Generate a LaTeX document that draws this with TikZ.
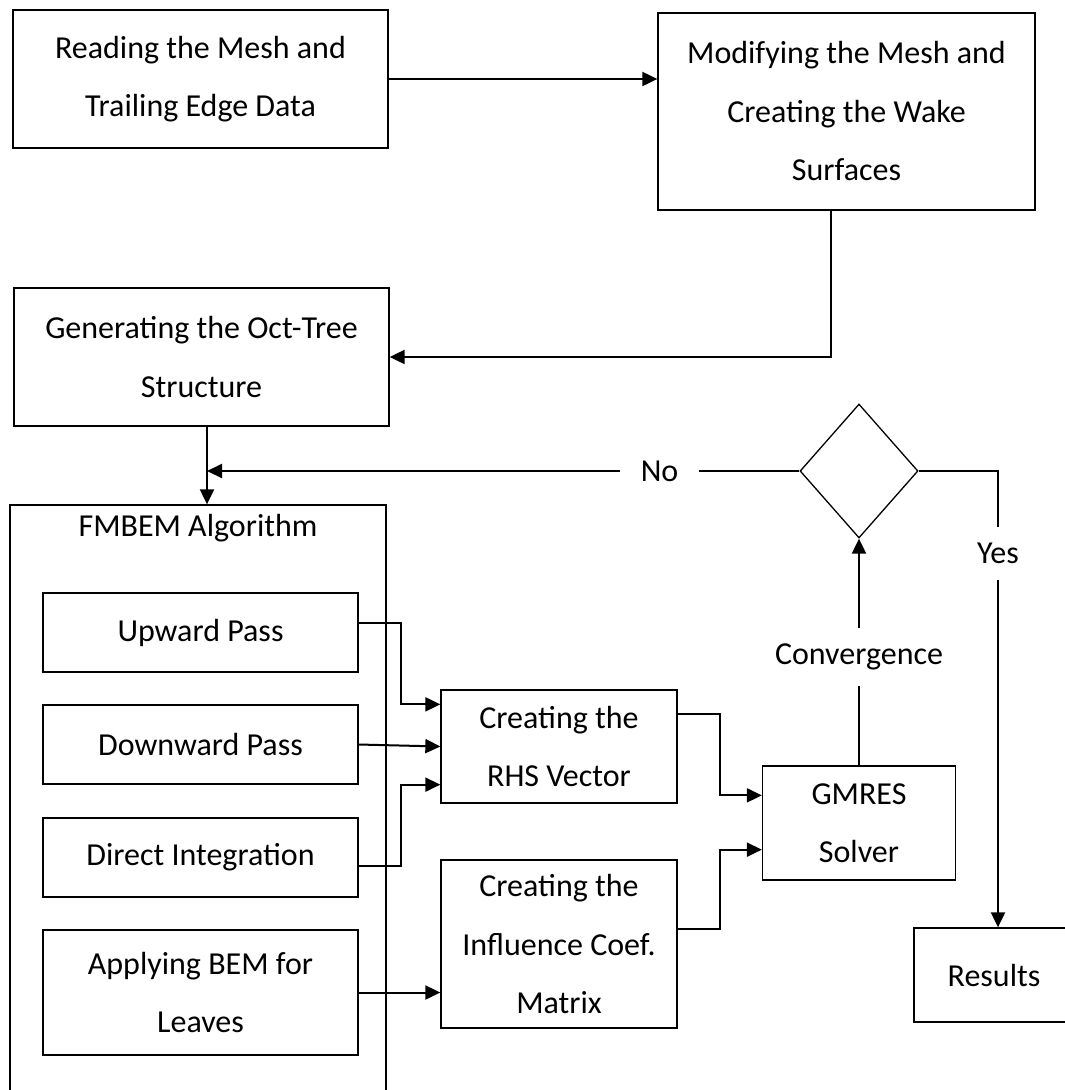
\documentclass[tikz,border=0pt]{standalone}
\usepackage{fontspec}
\setmainfont{Carlito}
\usetikzlibrary{shapes.geometric,arrows.meta}

\begin{document}
\begin{tikzpicture}[x=1pt, y=-1pt,
  every node/.style = {font=\fontsize{32}{58.5}\selectfont, align=center},
  box/.style 2 args = {shape=rectangle, draw, line width=1.3pt,
    minimum width=#1pt, minimum height=#2pt, inner sep=0pt},
  arr/.style = {draw, line width=2pt, -{Triangle[length=15pt, width=14pt]}},
  lbl/.style = {fill=white, inner xsep=21pt, inner ysep=16pt}]
  \useasboundingbox (0,0) rectangle (1065,1090);

  \node[box={375}{138}] (read) at (200.5,79) {Reading the Mesh and\\Trailing Edge Data};
  \node[box={377}{197}] (mod) at (846.5,111.5) {Modifying the Mesh and\\Creating the Wake\\Surfaces};
  \node[box={375}{138}] (gen) at (201.5,357) {Generating the Oct-Tree\\Structure};
  \node[box={376}{610}, label={[anchor=north, yshift=-6pt]north:FMBEM Algorithm}] (fmbem) at (198,810) {};
  \node[box={315}{79}] (up) at (200.5,632.5) {Upward Pass};
  \node[box={315}{79}] (down) at (200.5,744.5) {Downward Pass};
  \node[box={315}{79}] (direct) at (200.5,857.5) {Direct Integration};
  \node[box={315}{125}] (apply) at (200.5,992.5) {Applying BEM for\\Leaves};
  \node[box={236}{113}] (rhs) at (559,746.5) {Creating the\\RHS Vector};
  \node[box={236}{168}] (inf) at (559,944) {Creating the\\Influence Coef.\\Matrix};
  \node[box={193}{114}] (gm) at (859,823) {GMRES\\Solver};
  \node[draw, shape=diamond, line width=1.3pt, minimum width=118pt,
    minimum height=134pt, inner sep=0pt] (dec) at (859,471) {};
  \node[box={160}{94}] (res) at (994,975) {Results};
  \coordinate (j) at (207,471);

  \draw[arr] (read) -- (read -| mod.west);
  \draw[arr] ([shift={(-16,0)}]mod.south) |- (gen);
  \draw[arr] (gen.south -| j) -- (j |- fmbem.north);
  \draw[arr] (dec.west) -- node[lbl, pos=0.236] {No} (j);
  \draw[arr] (dec.east) -| node[lbl, pos=0.59] {Yes} ([shift={(4,0)}]res.north);
  \draw[arr] (gm) -- node[lbl, pos=0.478] {Convergence} (dec);

  \draw[arr] ([shift={(0,-9.5)}]up.east) -- ++(42,0) |- ([shift={(0,15)}]rhs.north west);
  \draw[arr] (down.east) -- (rhs.west);
  \draw[arr] ([shift={(0,8.5)}]direct.east) -- ++(42,0) |- ([shift={(0,-19)}]rhs.south west);
  \draw[arr] (apply.east) -- (apply.east -| inf.west);
  \draw[arr] ([shift={(0,-32.5)}]rhs.east) -- ++(42,0) |- ([shift={(0,30)}]gm.north west);
  \draw[arr] ([shift={(0,-15)}]inf.east) -- ++(42,0) |- ([shift={(0,-31)}]gm.south west);
\end{tikzpicture}
\end{document}
